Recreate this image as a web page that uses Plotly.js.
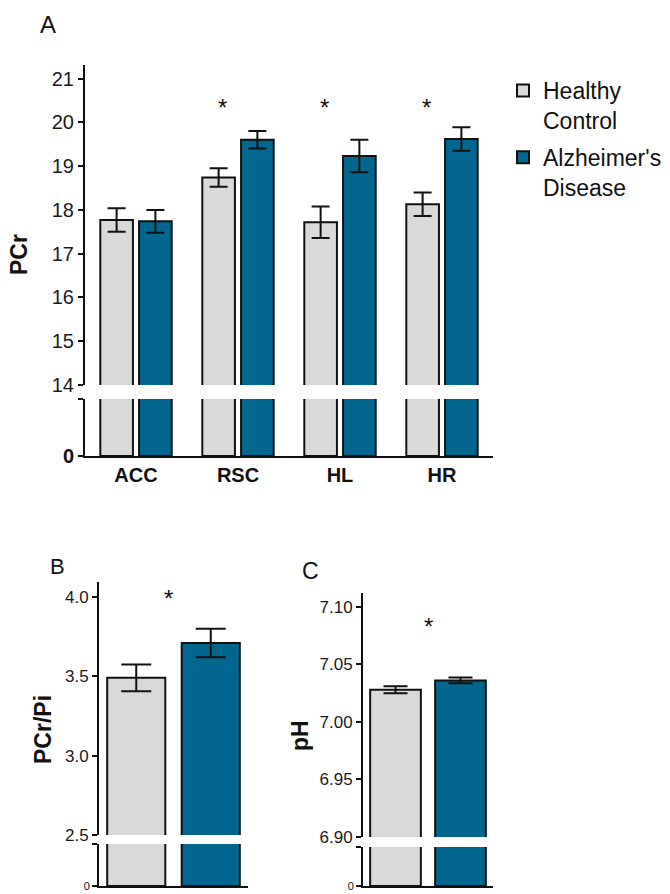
<!DOCTYPE html>
<html>
<head>
<meta charset="utf-8">
<script src="https://cdn.plot.ly/plotly-3.0.1.min.js"></script>
<style>
html,body{margin:0;padding:0;background:#fff;}
#chart{width:670px;height:894px;}
</style>
</head>
<body>
<div id="chart"></div>
<script>
// ---- data ----
const regions = ["ACC", "RSC", "HL", "HR"];
const groupNames = ["Healthy Control", "Alzheimer's Disease"];
const pcrHC = [17.77, 18.74, 17.72, 18.13];
const pcrHCerr = [0.27, 0.21, 0.36, 0.27];
const pcrAD = [17.74, 19.60, 19.23, 19.62];
const pcrADerr = [0.26, 0.20, 0.37, 0.27];
const ratioVals = [3.49, 3.71];
const ratioErr = [0.085, 0.09];
const phVals = [7.028, 7.036];
const phErr = [0.003, 0.0025];
const sigA = ["", "*", "*", "*"];
const sigB = "*";
const sigC = "*";

// ---- styling ----
const FONT = "Liberation Sans, Arial, sans-serif";
const HC_COL = "#d9d9d9";
const AD_COL = "#02668f";
const W = 670, H = 894;
const px = v => v / W;
const py = v => 1 - v / H;

const barLine = {color: "#111", width: 2};
function errBar(arr, w) {
  return {type: "data", array: arr, visible: true, color: "#111", thickness: 2, width: w};
}

const traces = [];
// Panel A upper
traces.push({type: "bar", x: regions, y: pcrHC, xaxis: "x", yaxis: "y",
  name: "Healthy<br>Control", legendgroup: "hc", showlegend: true,
  marker: {color: HC_COL, line: barLine}, width: 0.32, offset: -0.35,
  error_y: errBar(pcrHCerr, 9)});
traces.push({type: "bar", x: regions, y: pcrAD, xaxis: "x", yaxis: "y",
  name: "Alzheimer's<br>Disease", legendgroup: "ad", showlegend: true,
  marker: {color: AD_COL, line: barLine}, width: 0.32, offset: 0.03,
  error_y: errBar(pcrADerr, 9)});
// Panel A lower
traces.push({type: "bar", x: regions, y: pcrHC, xaxis: "x", yaxis: "y2",
  legendgroup: "hc", showlegend: false,
  marker: {color: HC_COL, line: barLine}, width: 0.32, offset: -0.35});
traces.push({type: "bar", x: regions, y: pcrAD, xaxis: "x", yaxis: "y2",
  legendgroup: "ad", showlegend: false,
  marker: {color: AD_COL, line: barLine}, width: 0.32, offset: 0.03});

// Panel B & C (upper + lower each)
const panels = [
  {xa: "x2", yu: "y3", yl: "y4", vals: ratioVals, errs: ratioErr, cap: 15},
  {xa: "x3", yu: "y5", yl: "y6", vals: phVals, errs: phErr, cap: 12}
];
panels.forEach(p => {
  [0, 1].forEach(i => {
    const col = i === 0 ? HC_COL : AD_COL;
    traces.push({type: "bar", x: [groupNames[i]], y: [p.vals[i]], xaxis: p.xa, yaxis: p.yu,
      showlegend: false, legendgroup: i === 0 ? "hc" : "ad",
      marker: {color: col, line: barLine}, width: 0.78,
      error_y: errBar([p.errs[i]], p.cap)});
    traces.push({type: "bar", x: [groupNames[i]], y: [p.vals[i]], xaxis: p.xa, yaxis: p.yl,
      showlegend: false, legendgroup: i === 0 ? "hc" : "ad",
      marker: {color: col, line: barLine}, width: 0.78});
  });
});

const axLine = {showline: true, linecolor: "#111", linewidth: 2, zeroline: false, showgrid: false};
function yUpper(xa, dom, rng, dtick, fmt, fs) {
  return Object.assign({}, axLine, {anchor: xa, domain: dom, range: rng, dtick: dtick,
    tick0: 0, tickformat: fmt, ticks: "outside", ticklen: 5, tickwidth: 2, tickcolor: "#111",
    tickfont: {family: FONT, size: fs, color: "#1a1a1a"}, fixedrange: true});
}
function yLower(xa, dom, fs, bold) {
  return Object.assign({}, axLine, {anchor: xa, domain: dom, range: [0, 1],
    tickmode: "array", tickvals: [0, 1], ticktext: [bold ? "<b>0</b>" : "0", ""], ticks: "outside", ticklen: 5,
    tickwidth: 2, tickcolor: "#111",
    tickfont: {family: FONT, size: fs, color: "#111"}, fixedrange: true});
}

const annotations = [];
// panel letters
[["A", 48, 25, 24], ["B", 57, 566, 22], ["C", 310, 571, 23]].forEach(a => {
  annotations.push({text: a[0], xref: "paper", yref: "paper", x: px(a[1]), y: py(a[2]),
    showarrow: false, xanchor: "center", yanchor: "middle",
    font: {family: FONT, size: a[3], color: "#111"}});
});
// y titles
[["PCr", 19, 255], ["PCr/Pi", 43, 730], ["pH", 300, 736]].forEach(a => {
  annotations.push({text: "<b>" + a[0] + "</b>", xref: "paper", yref: "paper", x: px(a[1]), y: py(a[2]),
    showarrow: false, textangle: -90, xanchor: "center", yanchor: "middle",
    font: {family: FONT, size: 23, color: "#111"}});
});
// significance markers
regions.forEach((r, i) => {
  if (sigA[i]) annotations.push({text: sigA[i], x: r, y: 20.33, xref: "x", yref: "y",
    xshift: -16, showarrow: false, font: {family: FONT, size: 24, color: "#111"}});
});
annotations.push({text: sigB, x: 0.43, y: 3.99, xref: "x2", yref: "y3", showarrow: false,
  font: {family: FONT, size: 24, color: "#111"}});
annotations.push({text: sigC, x: 0.5, y: 7.083, xref: "x3", yref: "y5", showarrow: false,
  font: {family: FONT, size: 24, color: "#111"}});

const layout = {
  width: W, height: H,
  margin: {l: 0, r: 0, t: 0, b: 0},
  paper_bgcolor: "#fff", plot_bgcolor: "rgba(0,0,0,0)",
  barmode: "overlay",
  showlegend: true,
  legend: {x: px(503), y: py(69), xanchor: "left", yanchor: "top", valign: "top",
    font: {family: FONT, size: 23, color: "#111"}, tracegroupgap: 4, itemwidth: 30,
    bgcolor: "rgba(0,0,0,0)"},
  xaxis: Object.assign({}, axLine, {anchor: "y2", domain: [px(85), px(493)], range: [-0.5, 3.5],
    type: "category", ticks: "", tickfont: {family: FONT, size: 20, color: "#111", weight: "bold"},
    fixedrange: true}),
  yaxis: yUpper("x", [py(385), py(65)], [14, 21.31], 1, "d", 20),
  yaxis2: yLower("x", [py(456), py(399)], 20, true),
  xaxis2: Object.assign({}, axLine, {anchor: "y4", domain: [px(99), px(248)], range: [-0.5, 1.5],
    type: "category", showticklabels: false, ticks: "", fixedrange: true}),
  yaxis3: yUpper("x2", [py(835), py(582)], [2.5, 4.094], 0.5, ".1f", 17),
  yaxis4: yLower("x2", [py(886), py(844)], 11, false),
  xaxis3: Object.assign({}, axLine, {anchor: "y6", domain: [px(363), px(493)], range: [-0.5, 1.5],
    type: "category", showticklabels: false, ticks: "", fixedrange: true}),
  yaxis5: yUpper("x3", [py(837), py(593)], [6.9, 7.112], 0.05, ".2f", 17),
  yaxis6: yLower("x3", [py(886), py(847)], 11, false),
  annotations: annotations
};

Plotly.newPlot("chart", traces, layout, {staticPlot: true, displayModeBar: false});
</script>
</body>
</html>
